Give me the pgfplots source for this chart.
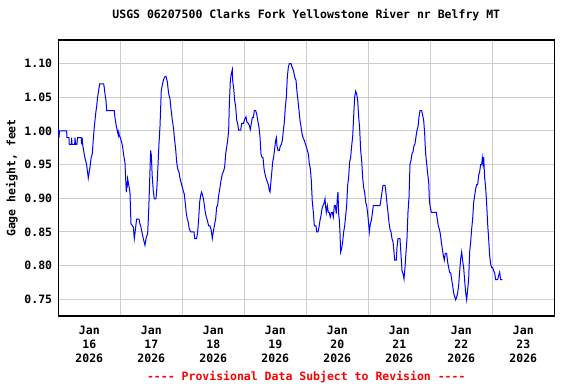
\documentclass[border=0pt]{standalone}
\usepackage{fontspec}
\setmonofont{DejaVu Sans Mono}
\usepackage{pgfplots}
\pgfplotsset{compat=1.18}
\newcommand{\gf}{\fontsize{11.5bp}{14bp}\selectfont\ttfamily\bfseries}
\begin{document}
\begin{tikzpicture}
\useasboundingbox (-58.3bp,-68bp) rectangle (517.7bp,316bp);
\begin{axis}[name=ax, at={(0,0)}, anchor=south west, scale only axis,
  width=496bp, height=276bp,
  xmin=0, xmax=8, ymin=0.725, ymax=1.135,
  xtick={0.5,1.5,2.5,3.5,4.5,5.5,6.5,7.5},
  xticklabels={{Jan\\16\\2026},{Jan\\17\\2026},{Jan\\18\\2026},{Jan\\19\\2026},{Jan\\20\\2026},{Jan\\21\\2026},{Jan\\22\\2026},{Jan\\23\\2026}},
  minor xtick={1,2,3,4,5,6,7}, xminorgrids=true, xmajorgrids=false,
  ytick={0.75,0.80,0.85,0.90,0.95,1.00,1.05,1.10}, ymajorgrids=true,
  major tick length=0pt, minor tick length=0pt,
  grid style={draw=black!20, line width=1bp},
  minor grid style={draw=black!20, line width=1bp},
  axis line style={line width=1.2bp},
  /pgf/number format/assume math mode=true,
  yticklabel style={/pgf/number format/.cd, fixed, fixed zerofill, precision=2, /tikz/.cd, anchor=east, inner sep=0pt, xshift=-6bp, font=\gf},
  xticklabel style={align=center, anchor=north, inner sep=0pt, yshift=-10bp, font=\gf},
  title={USGS 06207500 Clarks Fork Yellowstone River nr Belfry MT},
  title style={at={(axis description cs:0.5,1)}, anchor=base, yshift=15.5bp, font=\gf},
  ylabel={Gage height, feet},
  ylabel style={at={(axis description cs:-0.0934,0.5)}, anchor=center, font=\gf},
]
\addplot[color=blue, line width=1bp] coordinates {
(0.0,1.005)(0.011,0.99)(0.02,1.0)(0.043,1.00)(0.134,1.00)(0.14,0.99)(0.172,0.99)(0.177,0.98)(0.21,0.98)(0.215,0.99)(0.22,0.98)(0.264,0.98)(0.269,0.99)(0.28,0.98)(0.3,0.98)(0.312,0.99)(0.37,0.99)(0.376,0.98)(0.385,0.99)(0.392,0.98)
(0.41,0.97)(0.43,0.96)(0.457,0.95)(0.47,0.94)(0.484,0.93)(0.5,0.94)(0.511,0.946)(0.53,0.96)(0.548,0.966)(0.565,0.988)(0.581,1.006)(0.602,1.025)(0.618,1.036)(0.634,1.05)(0.651,1.06)(0.667,1.07)(0.731,1.07)(0.742,1.064)(0.753,1.055)(0.769,1.045)(0.78,1.03)(0.903,1.03)(0.914,1.02)(0.93,1.01)(0.952,1.0)(0.968,0.993)(0.975,0.998)(0.984,0.993)(1.0,0.99)(1.022,0.983)(1.038,0.976)(1.054,0.964)(1.075,0.954)(1.086,0.93)(1.097,0.909)(1.102,0.924)(1.11,0.915)(1.118,0.929)(1.134,0.921)(1.156,0.909)(1.172,0.862)(1.188,0.86)(1.21,0.857)(1.226,0.84)(1.242,0.852)(1.263,0.869)(1.301,0.869)(1.317,0.862)(1.333,0.857)(1.355,0.847)(1.371,0.84)(1.398,0.83)(1.419,0.842)(1.441,0.847)(1.457,0.879)(1.473,0.924)(1.489,0.971)(1.5,0.964)(1.516,0.931)(1.532,0.911)(1.548,0.899)(1.575,0.899)(1.591,0.916)(1.608,0.949)(1.624,0.981)(1.64,1.006)(1.661,1.06)(1.677,1.068)(1.694,1.075)(1.715,1.08)(1.737,1.081)(1.758,1.073)(1.78,1.055)(1.801,1.048)(1.817,1.033)(1.839,1.016)(1.86,1.003)(1.876,0.986)(1.892,0.974)(1.909,0.954)(1.925,0.944)(1.946,0.939)(1.962,0.93)(1.989,0.92)(2.016,0.911)(2.032,0.906)
(2.049,0.892)(2.065,0.877)(2.081,0.869)(2.097,0.864)(2.113,0.854)(2.135,0.85)(2.188,0.85)(2.2,0.84)(2.231,0.84)(2.248,0.85)(2.264,0.869)(2.28,0.894)(2.296,0.904)(2.312,0.909)(2.328,0.904)(2.345,0.897)(2.366,0.882)(2.382,0.874)(2.404,0.867)(2.425,0.859)(2.447,0.859)(2.468,0.852)(2.484,0.84)(2.5,0.85)(2.522,0.862)(2.538,0.869)(2.554,0.887)(2.57,0.889)(2.586,0.904)(2.608,0.916)(2.624,0.926)(2.645,0.936)(2.662,0.939)(2.683,0.946)(2.7,0.966)(2.716,0.976)(2.732,0.986)(2.748,1.001)(2.759,1.04)(2.775,1.075)(2.791,1.085)(2.807,1.091)(2.812,1.075)(2.829,1.063)(2.845,1.045)(2.861,1.036)(2.877,1.016)(2.893,1.011)(2.909,1.001)(2.942,1.001)(2.958,1.011)(2.984,1.011)(3.011,1.018)(3.027,1.021)(3.043,1.013)(3.065,1.011)(3.081,1.008)(3.097,1.002)(3.113,1.011)(3.13,1.02)(3.146,1.02)(3.162,1.03)(3.184,1.03)(3.2,1.025)(3.216,1.016)(3.237,1.005)(3.253,0.991)(3.269,0.966)(3.285,0.961)(3.302,0.96)(3.318,0.944)(3.334,0.936)(3.35,0.93)(3.372,0.924)(3.388,0.92)(3.404,0.911)(3.415,0.909)(3.425,0.92)(3.441,0.936)(3.458,0.954)(3.474,0.961)(3.49,0.974)(3.506,0.986)(3.517,0.99)(3.528,0.977)(3.544,0.971)(3.565,0.971)(3.582,0.978)(3.598,0.98)(3.614,0.986)(3.63,1.001)(3.646,1.013)(3.662,1.036)(3.678,1.05)(3.694,1.08)(3.711,1.095)(3.727,1.10)(3.754,1.10)(3.77,1.095)(3.791,1.09)(3.813,1.08)(3.834,1.075)(3.85,1.058)(3.866,1.045)(3.882,1.031)(3.898,1.016)
(3.915,1.006)(3.931,0.996)(3.947,0.99)(3.968,0.986)(3.984,0.981)(4.001,0.976)(4.017,0.971)(4.033,0.966)(4.049,0.951)(4.065,0.944)(4.081,0.926)(4.097,0.894)(4.114,0.879)(4.13,0.859)(4.157,0.859)(4.167,0.85)(4.189,0.85)(4.205,0.857)(4.221,0.867)(4.237,0.874)(4.253,0.884)(4.269,0.889)(4.285,0.892)(4.302,0.899)(4.312,0.887)(4.323,0.879)(4.339,0.889)(4.355,0.879)(4.371,0.879)(4.387,0.872)(4.404,0.879)(4.42,0.879)(4.436,0.872)(4.452,0.889)(4.468,0.889)(4.484,0.877)(4.5,0.899)(4.511,0.909)(4.522,0.877)(4.533,0.867)(4.543,0.85)(4.554,0.82)(4.57,0.825)(4.586,0.835)(4.603,0.85)(4.619,0.859)(4.635,0.874)(4.651,0.889)(4.667,0.919)(4.683,0.931)(4.699,0.954)(4.716,0.961)(4.732,0.978)(4.748,0.991)(4.764,1.021)(4.78,1.05)(4.796,1.059)(4.812,1.055)(4.829,1.045)(4.845,1.021)(4.861,1.003)(4.877,0.971)(4.893,0.956)(4.909,0.931)(4.925,0.916)(4.941,0.909)(4.958,0.894)(4.974,0.889)(4.99,0.877)(5.006,0.862)(5.017,0.85)(5.033,0.862)(5.049,0.867)(5.065,0.877)(5.081,0.889)(5.189,0.889)(5.205,0.899)(5.221,0.909)(5.237,0.919)(5.27,0.919)(5.286,0.907)(5.302,0.892)(5.318,0.879)(5.334,0.864)(5.35,0.854)(5.366,0.85)(5.382,0.84)(5.399,0.835)(5.415,0.82)(5.425,0.808)(5.452,0.808)(5.463,0.827)(5.479,0.84)(5.511,0.84)(5.527,0.817)(5.544,0.792)(5.56,0.788)(5.576,0.78)(5.592,0.797)(5.608,0.82)(5.624,0.84)(5.64,0.879)(5.657,0.902)(5.673,0.951)(5.689,0.956)(5.705,0.966)(5.721,0.969)(5.737,0.978)(5.753,0.981)(5.769,0.991)(5.786,1.001)(5.802,1.006)(5.818,1.021)(5.834,1.03)(5.861,1.03)(5.877,1.023)(5.893,1.016)(5.909,0.996)(5.925,0.966)(5.942,0.951)(5.958,0.936)(5.974,0.924)(5.985,0.897)
(6.0,0.887)(6.017,0.879)(6.097,0.879)(6.113,0.869)(6.129,0.859)(6.146,0.854)(6.162,0.847)(6.178,0.835)(6.194,0.825)(6.21,0.815)(6.226,0.808)(6.242,0.818)(6.264,0.818)(6.28,0.805)(6.296,0.797)(6.312,0.79)(6.329,0.789)(6.345,0.779)(6.361,0.77)(6.377,0.759)(6.393,0.754)(6.409,0.749)(6.425,0.753)(6.441,0.759)(6.457,0.77)(6.473,0.79)(6.49,0.81)(6.506,0.82)(6.522,0.807)(6.538,0.797)(6.554,0.778)(6.57,0.76)(6.587,0.749)(6.603,0.765)(6.619,0.78)(6.635,0.82)(6.651,0.835)(6.667,0.854)(6.683,0.869)(6.7,0.894)(6.716,0.904)(6.732,0.914)(6.748,0.92)(6.764,0.92)(6.78,0.934)(6.796,0.939)(6.812,0.95)(6.829,0.95)(6.839,0.96)(6.85,0.951)(6.861,0.961)(6.877,0.93)(6.893,0.916)(6.909,0.892)(6.925,0.862)(6.941,0.84)(6.957,0.815)(6.974,0.802)(6.99,0.797)(7.006,0.797)(7.022,0.792)(7.038,0.789)(7.054,0.779)(7.086,0.779)(7.102,0.785)(7.118,0.79)(7.134,0.779)(7.161,0.779)
};
\end{axis}
\node[anchor=base, text=red, font=\gf, inner sep=0pt] at ([yshift=-64bp]ax.south) {---- Provisional Data Subject to Revision ----};
\end{tikzpicture}
\end{document}
